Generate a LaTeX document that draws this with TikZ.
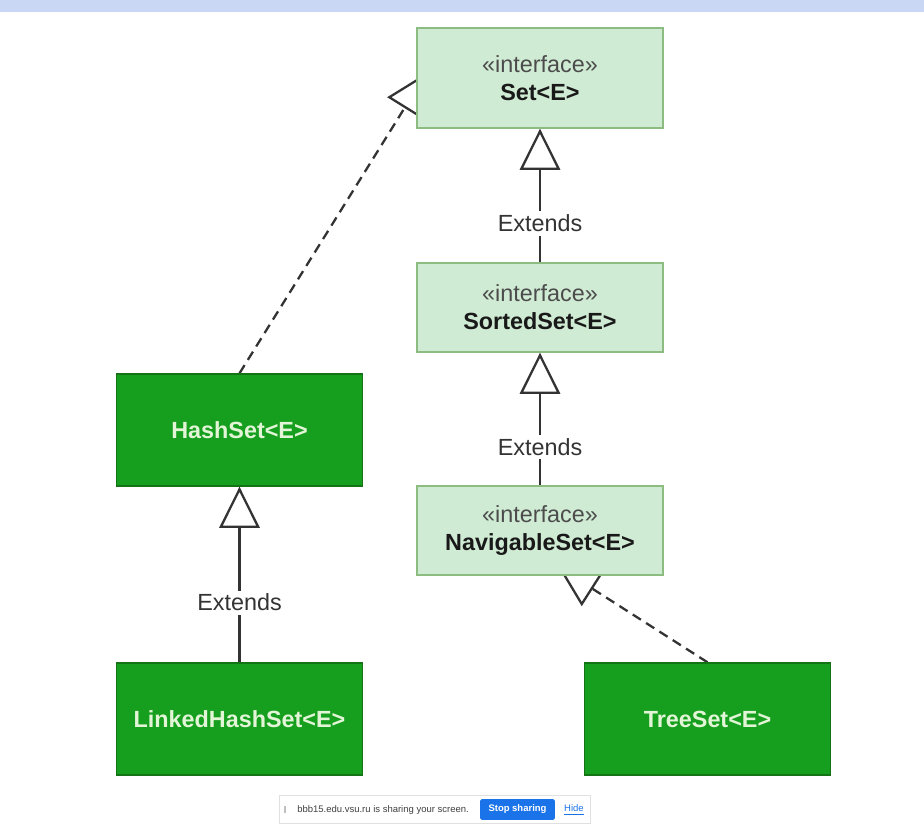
\documentclass[tikz,border=0pt]{standalone}
\usepackage{fontspec}
\setmainfont{Liberation Sans}
\usetikzlibrary{arrows.meta,backgrounds}
\definecolor{topbar}{RGB}{201,215,245}
\definecolor{ifill}{RGB}{208,235,211}
\definecolor{idraw}{RGB}{140,188,128}
\definecolor{cfill}{RGB}{22,158,30}
\definecolor{cdraw}{RGB}{20,115,20}
\definecolor{ctext}{RGB}{226,245,214}
\definecolor{btnblue}{RGB}{26,115,232}

\begin{document}
\begin{tikzpicture}[x=0.02cm,y=-0.02cm,
  iface/.style={draw=idraw,fill=ifill,line width=0.8pt,minimum width=4.92cm,minimum height=1.78cm,align=center,font=\fontsize{13.3}{16}\selectfont,text=black!90},
  cls/.style={draw=cdraw,fill=cfill,line width=0.8pt,minimum width=4.92cm,minimum height=2.24cm,font=\fontsize{13.3}{16}\selectfont\bfseries,text=ctext},
  ext/.style={line width=1.3pt,draw=black!80,-{Triangle[open,length=23.5pt,width=23pt]}},
  impl/.style={ext,dash pattern=on 5.5pt off 3.5pt},
  lbl/.style={fill=white,inner sep=2pt,font=\fontsize{13.3}{16}\selectfont,text=black!80},
  small/.style={font=\fontsize{5.4}{6}\selectfont}]
\useasboundingbox (0,0) rectangle (924,824);
\fill[topbar] (0,0) rectangle (924,12);

\node[iface,minimum height=2cm] (set) at (540,78) {\textcolor{black!70}{«interface»}\\\textbf{Set<E>}};
\node[iface] (sorted) at (540,307.5) {\textcolor{black!70}{«interface»}\\\textbf{SortedSet<E>}};
\node[iface] (navig) at (540,530.5) {\textcolor{black!70}{«interface»}\\\textbf{NavigableSet<E>}};
\node[cls] (hash) at (239.5,430) {HashSet<E>};
\node[cls] (linked) at (239.5,719) {LinkedHashSet<E>};
\node[cls] (tree) at (707.5,719) {TreeSet<E>};

\begin{scope}[on background layer]
\fill[white] (0,0) rectangle (924,824);
\draw[ext] (sorted) -- node[lbl,pos=0.29]{Extends} (set);
\draw[ext] (navig) -- node[lbl,pos=0.29]{Extends} (sorted);
\draw[ext] (linked) -- node[lbl,pos=0.34]{Extends} (hash);
\draw[impl] (hash.north) -- ([shift={(10,-5)}]set.west);
\draw[impl] (tree.north) -- ([shift={(18,-9)}]navig.south);
\end{scope}

\draw[black!12,fill=white] (279,795) rectangle (590,823);
\fill[black!25] (284,806) rectangle (286,813);
\node[small,text=black!75,anchor=west,inner sep=0pt] (share) at (297,810) {bbb15.edu.vsu.ru is sharing your screen.};
\node[small,fill=btnblue,text=white,minimum width=1.5cm,minimum height=0.42cm,inner sep=0pt,rounded corners=1pt] (stop) at (517.5,809.5) {\bfseries Stop sharing};
\node[small,text=btnblue,anchor=west] (hide) at (558,810) {\underline{Hide}};
\end{tikzpicture}
\end{document}
